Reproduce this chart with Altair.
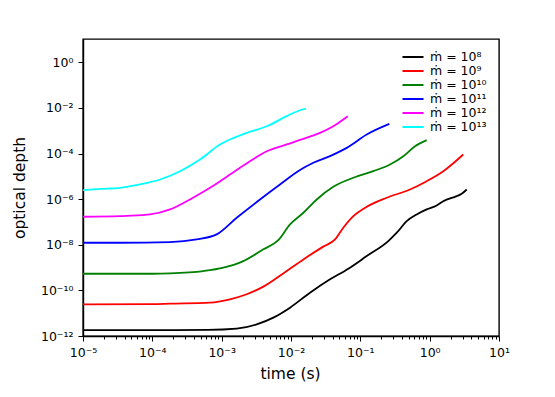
import altair as alt
import pandas as pd

# legend labels and colours
labels = ["ṁ = 10⁸", "ṁ = 10⁹", "ṁ = 10¹⁰", "ṁ = 10¹¹", "ṁ = 10¹²", "ṁ = 10¹³"]
colors = ["#000000", "#ff0000", "#008000", "#0000ff", "#ff00ff", "#00ffff"]

# time (s) and optical depth
t_1e8 = [1e-5, 1e-4, 6.31e-4, 1.648e-3, 3.20e-3, 5.56e-3, 9.68e-3, 1.88e-2, 3.66e-2, 6.71e-2,
         0.1236, 0.2529, 0.335, 0.467, 0.650, 0.906, 1.265, 1.574, 2.455, 2.897, 3.42]
tau_1e8 = [1.82e-12, 1.82e-12, 1.86e-12, 2.11e-12, 3.24e-12, 6.40e-12, 1.754e-11, 7.94e-11, 3.05e-10,
           8.95e-10, 3.19e-9, 1.449e-8, 3.38e-8, 1.089e-7, 2.14e-7, 3.55e-7, 5.31e-7, 8.18e-7,
           1.355e-6, 1.726e-6, 2.66e-6]

t_1e9 = [1e-5, 1e-4, 1.80e-4, 6.79e-4, 1.318e-3, 2.296e-3, 3.99e-3, 7.74e-3, 1.507e-2, 2.92e-2,
         4.32e-2, 5.68e-2, 7.93e-2, 0.1236, 0.240, 0.520, 0.906, 1.574, 3.05]
tau_1e9 = [2.455e-11, 2.51e-11, 2.63e-11, 2.90e-11, 4.07e-11, 6.76e-11, 1.459e-10, 5.57e-10, 2.29e-9,
           8.32e-9, 1.722e-8, 5.60e-8, 1.803e-7, 4.66e-7, 1.153e-6, 2.67e-6, 6.17e-6, 1.687e-5, 9.12e-5]

t_1e10 = [1e-5, 1e-4, 1.80e-4, 5.43e-4, 1.057e-3, 2.05e-3, 3.99e-3, 6.56e-3, 9.68e-3, 1.507e-2,
          2.35e-2, 4.07e-2, 7.93e-2, 0.1538, 0.268, 0.417, 0.615, 0.906]
tau_1e10 = [5.37e-10, 5.37e-10, 5.57e-10, 7.03e-10, 9.91e-10, 1.928e-9, 6.31e-9, 1.603e-8, 7.82e-8,
            2.54e-7, 9.72e-7, 3.50e-6, 8.71e-6, 1.698e-5, 3.31e-5, 7.66e-5, 2.09e-4, 3.89e-4]

t_1e11 = [1e-5, 3.42e-5, 1.80e-4, 4.37e-4, 8.47e-4, 1.648e-3, 3.57e-3, 6.93e-3, 1.349e-2, 2.10e-2,
          3.66e-2, 6.37e-2, 0.1236, 0.262]
tau_1e11 = [1.23e-8, 1.23e-8, 1.309e-8, 1.722e-8, 2.85e-8, 1.535e-7, 9.72e-7, 4.42e-6, 1.905e-5,
            3.94e-5, 7.76e-5, 1.778e-4, 6.84e-4, 1.995e-3]

t_1e12 = [1e-5, 3.42e-5, 9.25e-5, 1.80e-4, 3.49e-4, 6.79e-4, 1.318e-3, 2.56e-3, 4.47e-3, 8.67e-3,
          1.349e-2, 2.62e-2, 4.07e-2, 6.58e-2]
tau_1e12 = [1.698e-7, 1.803e-7, 2.14e-7, 3.55e-7, 9.77e-7, 3.16e-6, 1.211e-5, 4.62e-5, 1.268e-4,
            2.51e-4, 3.98e-4, 8.13e-4, 1.585e-3, 4.37e-3]

t_1e13 = [1e-5, 1.778e-5, 3.42e-5, 6.64e-5, 1.291e-4, 2.51e-4, 4.88e-4, 9.46e-4, 1.318e-3, 2.296e-3,
          4.47e-3, 8.67e-3, 1.349e-2, 1.644e-2]
tau_1e13 = [2.51e-6, 2.82e-6, 3.16e-6, 4.42e-6, 7.31e-6, 1.687e-5, 5.50e-5, 2.49e-4, 4.13e-4, 8.13e-4,
            1.585e-3, 4.37e-3, 7.94e-3, 9.33e-3]

x_tick_labels = ["10⁻⁵", "10⁻⁴", "10⁻³", "10⁻²", "10⁻¹", "10⁰", "10¹"]
y_tick_labels = ["10⁻¹²", "10⁻¹⁰", "10⁻⁸", "10⁻⁶", "10⁻⁴", "10⁻²", "10⁰"]

t_series = [t_1e8, t_1e9, t_1e10, t_1e11, t_1e12, t_1e13]
tau_series = [tau_1e8, tau_1e9, tau_1e10, tau_1e11, tau_1e12, tau_1e13]

rows = []
for lab, ts, taus in zip(labels, t_series, tau_series):
    for i, (t, tau) in enumerate(zip(ts, taus)):
        rows.append({"series": lab, "t": t, "tau": tau, "i": i})
df = pd.DataFrame(rows)

x_ticks = [k * 10.0 ** e for e in range(-5, 1) for k in range(1, 10)] + [10.0]
y_ticks = [10.0 ** e for e in range(-12, 1, 2)]

is_major = "abs(log(datum.value)/LN10 - round(log(datum.value)/LN10)) < 0.001"
x_label_expr = (f"{is_major} ? {x_tick_labels!r}[round(log(datum.value)/LN10)+5] : ''")
y_label_expr = f"{y_tick_labels!r}[(round(log(datum.value)/LN10)+12)/2]"

FONT = "DejaVu Sans"

chart = alt.Chart(df).mark_line(strokeWidth=1.8, clip=True, interpolate="monotone").encode(
    x=alt.X("t:Q",
            scale=alt.Scale(type="log", domain=[1e-5, 10], nice=False),
            axis=alt.Axis(values=x_ticks, labelExpr=x_label_expr, title="time (s)",
                          grid=False, labelOverlap=False, labelFlush=False,
                          tickSize={"condition": {"test": is_major, "value": 5}, "value": 3},
                          labelPadding=5,
                          titleX=207, titleY=37, titleBaseline="middle", titleAlign="center")),
    y=alt.Y("tau:Q",
            scale=alt.Scale(type="log", domain=[1e-12, 10.6], nice=False),
            axis=alt.Axis(values=y_ticks, labelExpr=y_label_expr, title="optical depth",
                          grid=False, labelOverlap=False, labelFlush=False, tickSize=5,
                          labelPadding=5,
                          titleX=-64, titleY=148.5, titleBaseline="middle", titleAlign="center")),
    color=alt.Color("series:N",
                    scale=alt.Scale(domain=labels, range=colors),
                    legend=alt.Legend(title=None, orient="none", legendX=323, legendY=11,
                                      symbolType="M-1.75,0H1.75", symbolSize=144,
                                      symbolStrokeWidth=2, labelOffset=10, rowPadding=0,
                                      padding=0, labelFontSize=12.5, labelFont=FONT)),
    order="i:Q",
).properties(
    width=416, height=297,
    padding={"left": 75, "top": 31, "right": 40, "bottom": 53},
    autosize="none",
).configure_view(
    stroke="black", strokeWidth=1.4
).configure_axis(
    domainColor="black", domainWidth=1.4, tickColor="black", tickWidth=1,
    labelFont=FONT, labelFontSize=12.5, labelColor="black",
    titleFont=FONT, titleFontSize=15.5, titleFontWeight="normal", titleColor="black",
)

chart.save("out.html", embed_options={"renderer": "svg", "actions": False})
